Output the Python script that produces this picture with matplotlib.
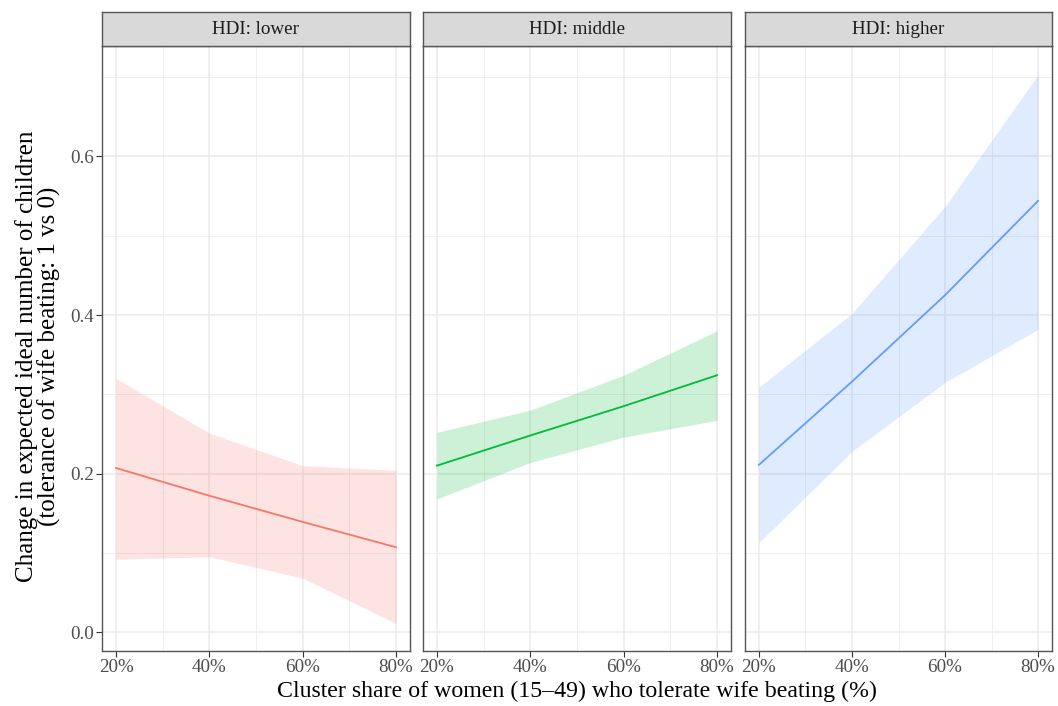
import matplotlib
matplotlib.use("Agg")
import matplotlib.pyplot as plt
from matplotlib.ticker import FixedLocator, FuncFormatter

plt.rcParams['font.family'] = ['Liberation Serif', 'DejaVu Serif']

# ---- data ----
panels = ["HDI: lower", "HDI: middle", "HDI: higher"]
colors = ["#F8766D", "#00BA38", "#619CFF"]
x_share = [20, 40, 60, 80]

lower_est = [0.207, 0.172, 0.139, 0.107]
lower_lo = [0.092, 0.095, 0.068, 0.011]
lower_hi = [0.320, 0.251, 0.210, 0.204]

middle_est = [0.210, 0.248, 0.285, 0.324]
middle_lo = [0.168, 0.214, 0.246, 0.267]
middle_hi = [0.252, 0.280, 0.324, 0.380]

higher_est = [0.211, 0.316, 0.425, 0.544]
higher_lo = [0.113, 0.228, 0.315, 0.382]
higher_hi = [0.309, 0.402, 0.537, 0.703]

est = [lower_est, middle_est, higher_est]
lo = [lower_lo, middle_lo, higher_lo]
hi = [lower_hi, middle_hi, higher_hi]

x_ticks = [20, 40, 60, 80]
y_ticks = [0.0, 0.2, 0.4, 0.6]

W, H = 1058, 706
fig = plt.figure(figsize=(W / 100, H / 100), dpi=100)

panel_px = [(102, 410), (423, 731), (745, 1052)]
top_px, bot_px = 46, 651
strip_top = 12

edge = "#333333"
grid = "#EBEBEB"

for i, (x0, x1) in enumerate(panel_px):
    ax = fig.add_axes([x0 / W, 1 - bot_px / H, (x1 - x0) / W, (bot_px - top_px) / H])
    ax.fill_between(x_share, lo[i], hi[i], color=colors[i], alpha=0.2, linewidth=0)
    ax.plot(x_share, est[i], color=colors[i], linewidth=1.3)
    ax.set_xlim(17, 83)
    ax.set_ylim(-0.0239, 0.7394)
    ax.xaxis.set_major_locator(FixedLocator(x_ticks))
    ax.xaxis.set_minor_locator(FixedLocator([30, 50, 70]))
    ax.yaxis.set_major_locator(FixedLocator(y_ticks))
    ax.yaxis.set_minor_locator(FixedLocator([0.1, 0.3, 0.5, 0.7]))
    ax.xaxis.set_major_formatter(FuncFormatter(lambda v, p: f"{int(round(v))}%"))
    ax.yaxis.set_major_formatter(FuncFormatter(lambda v, p: f"{v:.1f}"))
    ax.grid(True, which="major", color=grid, linewidth=1.1)
    ax.grid(True, which="minor", color=grid, linewidth=0.6)
    ax.set_axisbelow(True)
    for s in ax.spines.values():
        s.set_color("#555555")
        s.set_linewidth(1.0)
    ax.tick_params(axis="both", which="major", length=4, width=0.8, color=edge,
                   labelsize=13.7, labelcolor="#4D4D4D", pad=1.5)
    ax.tick_params(axis="both", which="minor", length=0)
    if i > 0:
        ax.tick_params(axis="y", which="major", left=False, labelleft=False)
    # strip
    sax = fig.add_axes([x0 / W, 1 - top_px / H, (x1 - x0) / W, (top_px - strip_top) / H])
    sax.set_facecolor("#D9D9D9")
    sax.set_xticks([])
    sax.set_yticks([])
    for s in sax.spines.values():
        s.set_color("#555555")
        s.set_linewidth(1.0)
    sax.text(0.5, 0.48, panels[i], ha="center", va="center", fontsize=13.7,
             color="#1A1A1A", transform=sax.transAxes)

fig.text(577 / W, 1 - 691 / H, "Cluster share of women (15\u201349) who tolerate wife beating (%)",
         ha="center", va="center", fontsize=17.2, color="black")
fig.text(38 / W, 1 - 356 / H,
         "Change in expected ideal number of children\n(tolerance of wife beating: 1 vs 0)",
         ha="center", va="center", rotation=90, fontsize=18, color="black",
         linespacing=1.0)

fig.savefig("out.png", dpi=100)
